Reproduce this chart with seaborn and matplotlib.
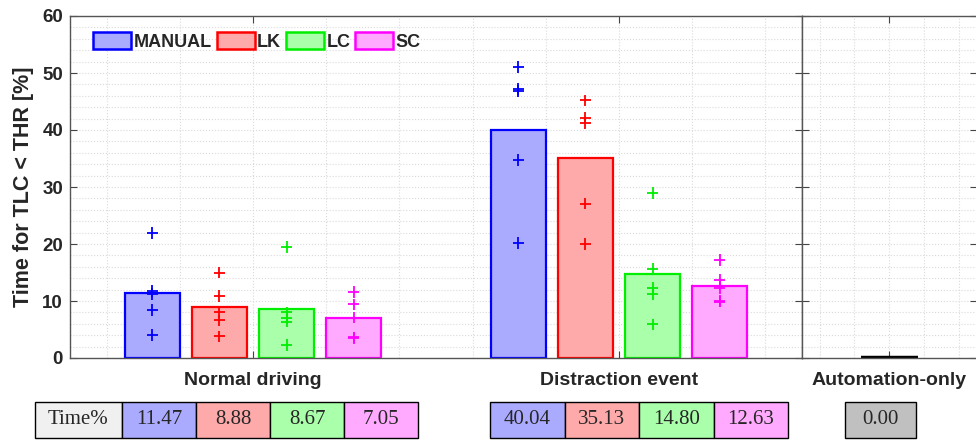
import matplotlib
matplotlib.use("Agg")
import matplotlib.pyplot as plt
from matplotlib.ticker import MultipleLocator
from matplotlib.patches import Patch
import seaborn as sns
import pandas as pd

# --- dados ---
groups = ['Normal driving', 'Distraction event']
auto_group = ['Automation-only']
modes = ['MANUAL', 'LK', 'LC', 'SC']

mean_normal = [11.47, 8.88, 8.67, 7.05]
mean_distraction = [40.04, 35.13, 14.80, 12.63]
mean_automation = [0.00]

# pontos individuais
manual_normal = [21.9, 11.8, 11.2, 8.4, 4.0]
lk_normal = [15.0, 10.9, 8.1, 6.6, 3.8]
lc_normal = [19.5, 8.0, 7.0, 6.4, 2.3]
sc_normal = [11.6, 9.4, 7.1, 3.6, 3.5]
manual_distraction = [51.1, 47.2, 46.8, 34.7, 20.2]
lk_distraction = [45.2, 42.1, 41.2, 27.1, 20.0]
lc_distraction = [28.9, 15.6, 12.3, 11.2, 5.9]
sc_distraction = [17.2, 13.7, 12.3, 10.0, 9.9]

# --- estilo ---
edge_colors = ['#0000ff', '#ff0000', '#00ee00', '#ff00ff']
face_colors = ['#aaaaff', '#ffaaaa', '#aaffaa', '#ffaaff']
offsets = [-0.275, -0.092, 0.092, 0.275]
bar_w = 0.15

sns.set_style("ticks")
plt.rcParams['font.family'] = ['Liberation Sans', 'DejaVu Sans']
plt.rcParams['font.weight'] = 'bold'

fig = plt.figure(figsize=(9.76, 4.41), dpi=100)
ax = fig.add_axes([70 / 976, 1 - 358 / 441, 732 / 976, 342 / 441])
ax2 = fig.add_axes([802 / 976, 1 - 358 / 441, 175 / 976, 342 / 441])

# barras
means = [mean_normal, mean_distraction]
for g, vals in enumerate(means):
    for m in range(len(modes)):
        ax.bar(g + 1 + offsets[m], vals[m], width=bar_w, color=face_colors[m],
               edgecolor=edge_colors[m], linewidth=1.6, zorder=2)

ax2.bar(1, mean_automation[0], width=0.33, color='#c0c0c0', edgecolor='black',
        linewidth=3.2, zorder=2)

# pontos
point_lists = {
    ('Normal driving', 'MANUAL'): manual_normal,
    ('Normal driving', 'LK'): lk_normal,
    ('Normal driving', 'LC'): lc_normal,
    ('Normal driving', 'SC'): sc_normal,
    ('Distraction event', 'MANUAL'): manual_distraction,
    ('Distraction event', 'LK'): lk_distraction,
    ('Distraction event', 'LC'): lc_distraction,
    ('Distraction event', 'SC'): sc_distraction,
}
rows = []
for (grp, mode), vals in point_lists.items():
    xpos = groups.index(grp) + 1 + offsets[modes.index(mode)]
    for v in vals:
        rows.append({'x': xpos, 'value': v, 'mode': mode})
df = pd.DataFrame(rows)

sns.scatterplot(data=df, x='x', y='value', hue='mode', hue_order=modes,
                palette=edge_colors, marker='+', s=70, linewidth=1.3,
                legend=False, ax=ax, zorder=3)

# eixos
for a in (ax, ax2):
    a.set_ylim(0, 60)
    a.yaxis.set_major_locator(MultipleLocator(10))
    a.yaxis.set_minor_locator(MultipleLocator(2))
    a.xaxis.set_minor_locator(MultipleLocator(0.2))
    a.grid(which='both', linestyle=':', color='#dadada', linewidth=0.8)
    a.set_axisbelow(True)
    a.tick_params(which='major', direction='in', length=5, top=True, right=True,
                  color='#444444', labelsize=13.5, pad=9)
    a.tick_params(which='minor', length=0)
    a.tick_params(axis='x', labelsize=14, pad=10)
    for s in a.spines.values():
        s.set_color('#555555')
        s.set_linewidth(1.0)
    a.set_xlabel('')
    a.set_ylabel('')

ax.set_xlim(0.5, 2.5)
ax.set_xticks([1, 2], groups)
ax2.set_xlim(0.5, 1.5)
ax2.set_xticks([1], auto_group)
ax2.tick_params(labelleft=False)
ax.tick_params(axis='y', pad=5)
for lbl in ax.get_xticklabels() + ax.get_yticklabels() + ax2.get_xticklabels():
    lbl.set_fontweight('bold')

ax.set_ylabel('Time for TLC < THR [%]', fontsize=15.5, fontweight='bold', labelpad=6)

# legenda
handles = [Patch(facecolor=face_colors[i], edgecolor=edge_colors[i], linewidth=1.8)
           for i in range(len(modes))]
ax.legend(handles, modes, loc='upper left', bbox_to_anchor=(0.022, 0.975), ncol=4,
          frameon=False, prop={'weight': 'bold', 'size': 13},
          handlelength=2.1, handleheight=1.1, handletextpad=0.15,
          columnspacing=0.25, borderaxespad=0)

# tabelas com as médias
def draw_table(rect, texts, colors, widths):
    tax = fig.add_axes(rect)
    tax.axis('off')
    tab = tax.table(cellText=[texts], cellColours=[colors], colWidths=widths,
                    cellLoc='center', bbox=[0, 0, 1, 1])
    tab.auto_set_font_size(False)
    for cell in tab.get_celld().values():
        cell.set_edgecolor('black')
        cell.set_linewidth(1.0)
        cell.get_text().set_fontfamily('Liberation Serif')
        cell.get_text().set_fontweight('normal')
        cell.get_text().set_fontsize(15)
    return tab

y0 = 1 - 438 / 441
h = 36 / 441
draw_table([35 / 976, y0, 383 / 976, h],
           ['Time%'] + [f'{v:.2f}' for v in mean_normal],
           ['#f0f0f0'] + face_colors, [87, 74, 74, 74, 74])
draw_table([490 / 976, y0, 298 / 976, h],
           [f'{v:.2f}' for v in mean_distraction], face_colors, [74, 74, 74, 74])
draw_table([845 / 976, y0, 71 / 976, h],
           [f'{v:.2f}' for v in mean_automation], ['#c0c0c0'], [71])

fig.savefig('out.png', dpi=100)
